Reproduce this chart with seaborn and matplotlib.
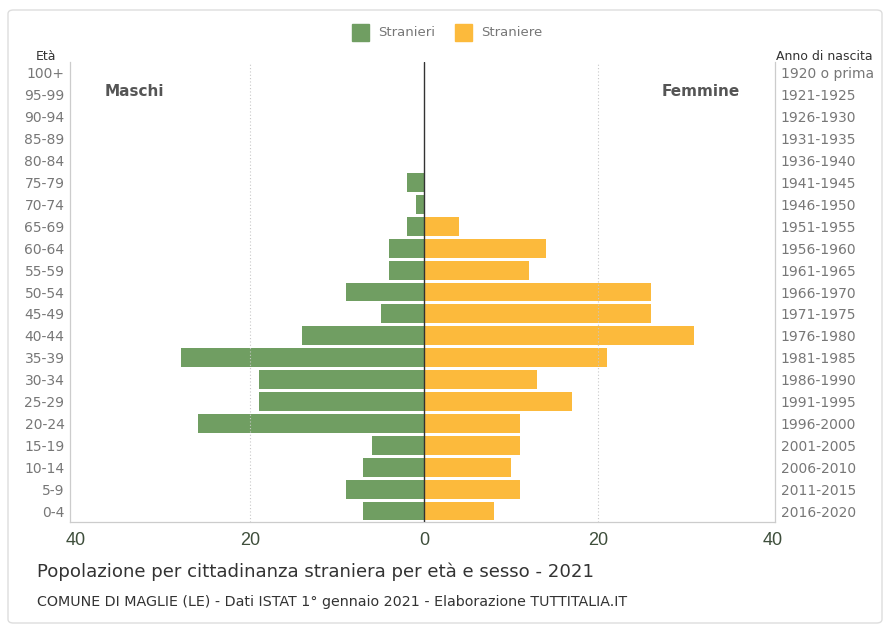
import matplotlib
matplotlib.use("Agg")
import matplotlib.pyplot as plt
import seaborn as sns
import pandas as pd
from matplotlib.patches import FancyBboxPatch, Rectangle

# Age classes, top to bottom
eta = ["100+", "95-99", "90-94", "85-89", "80-84", "75-79", "70-74", "65-69",
       "60-64", "55-59", "50-54", "45-49", "40-44", "35-39", "30-34", "25-29",
       "20-24", "15-19", "10-14", "5-9", "0-4"]
anno_nascita = ["1920 o prima", "1921-1925", "1926-1930", "1931-1935", "1936-1940",
                "1941-1945", "1946-1950", "1951-1955", "1956-1960", "1961-1965",
                "1966-1970", "1971-1975", "1976-1980", "1981-1985", "1986-1990",
                "1991-1995", "1996-2000", "2001-2005", "2006-2010", "2011-2015",
                "2016-2020"]
stranieri = [0, 0, 0, 0, 0, 2, 1, 2, 4, 4, 9, 5, 14, 28, 19, 19, 26, 6, 7, 9, 7]
straniere = [0, 0, 0, 0, 0, 0, 0, 4, 14, 12, 26, 26, 31, 21, 13, 17, 11, 11, 10, 11, 8]
x_ticks = [-40, -20, 0, 20, 40]
x_labels = ["40", "20", "0", "20", "40"]

VERDE = "#709e62"
ARANCIO = "#fcba3c"

df = pd.concat([
    pd.DataFrame({"eta": eta, "valore": [-v for v in stranieri], "sesso": "Stranieri"}),
    pd.DataFrame({"eta": eta, "valore": straniere, "sesso": "Straniere"}),
])

sns.set_theme(style="white")
plt.rcParams["font.family"] = ["DejaVu Sans"]
NARROW = ["Liberation Sans", "DejaVu Sans"]

W, H = 889, 631
fig = plt.figure(figsize=(W / 100, H / 100), dpi=100)
fig.patch.set_facecolor("white")

# outer rounded frame
frame = FancyBboxPatch((8 / W, 8 / H), 874 / W, 613 / H,
                       boxstyle="round,pad=0,rounding_size=0.006",
                       transform=fig.transFigure, fill=False,
                       edgecolor="#dddddd", linewidth=1.0)
fig.patches.append(frame)

ax_l, ax_r, ax_t, ax_b = 70, 775, 62, 522
ax = fig.add_axes([ax_l / W, 1 - ax_b / H, (ax_r - ax_l) / W, (ax_b - ax_t) / H])

sns.barplot(data=df, x="valore", y="eta", hue="sesso", order=eta,
            palette={"Stranieri": VERDE, "Straniere": ARANCIO},
            dodge=False, width=0.86, orient="h", ax=ax, legend=False,
            saturation=1, linewidth=0)

ax.set_xlim(-40.7, 40.3)
ax.set_ylim(len(eta) - 0.5, -0.5)
ax.set_xticks(x_ticks)
ax.set_xticklabels(x_labels, fontsize=13, color="#3f4f3c", family=NARROW)
ax.tick_params(axis="x", length=0, pad=7)
ax.tick_params(axis="y", length=0, pad=4, labelsize=10, labelcolor="#777777")
ax.set_xlabel("")
ax.set_ylabel("")

ax.spines["top"].set_visible(False)
for s in ["left", "right", "bottom"]:
    ax.spines[s].set_color("#cccccc")
    ax.spines[s].set_linewidth(0.9)

for xv in (-20, 20):
    ax.axvline(xv, color="#c8c8c8", linestyle=(0, (1, 2)), linewidth=0.8, zorder=3)
ax.axvline(0, color="#333333", linewidth=1.0, zorder=4)

# birth years on the right
ax2 = ax.twinx()
ax2.set_ylim(ax.get_ylim())
ax2.set_yticks(range(len(anno_nascita)))
ax2.set_yticklabels(anno_nascita)
ax2.tick_params(axis="y", length=0, pad=4, labelsize=10, labelcolor="#777777")
for s in ax2.spines.values():
    s.set_visible(False)
ax2.grid(False)

# headers
fig.text(46 / W, 1 - 57 / H, "Età", fontsize=9, color="#333333", ha="center", va="center")
fig.text(776 / W, 1 - 56 / H, "Anno di nascita", fontsize=9, color="#333333",
         ha="left", va="center")
fig.text(105 / W, 1 - 92 / H, "Maschi", fontsize=11, color="#555555",
         fontweight="bold", ha="left", va="center")
fig.text(740 / W, 1 - 92 / H, "Femmine", fontsize=11, color="#555555",
         fontweight="bold", ha="right", va="center")

# legend
for x0, col, lab in [(352, VERDE, "Stranieri"), (455, ARANCIO, "Straniere")]:
    fig.patches.append(Rectangle((x0 / W, 1 - 41 / H), 17 / W, 17 / H,
                                 transform=fig.transFigure, color=col))
    fig.text((x0 + 26) / W, 1 - 32 / H, lab, fontsize=9.5, color="#777777",
             ha="left", va="center")

# title and source
fig.text(37 / W, 1 - 572 / H,
         "Popolazione per cittadinanza straniera per età e sesso - 2021",
         fontsize=13.1, color="#333333", ha="left", va="center")
fig.text(37 / W, 1 - 602 / H,
         "COMUNE DI MAGLIE (LE) - Dati ISTAT 1° gennaio 2021 - Elaborazione TUTTITALIA.IT",
         fontsize=10.3, color="#333333", ha="left", va="center")

fig.savefig("out.png", dpi=100, facecolor="white")
